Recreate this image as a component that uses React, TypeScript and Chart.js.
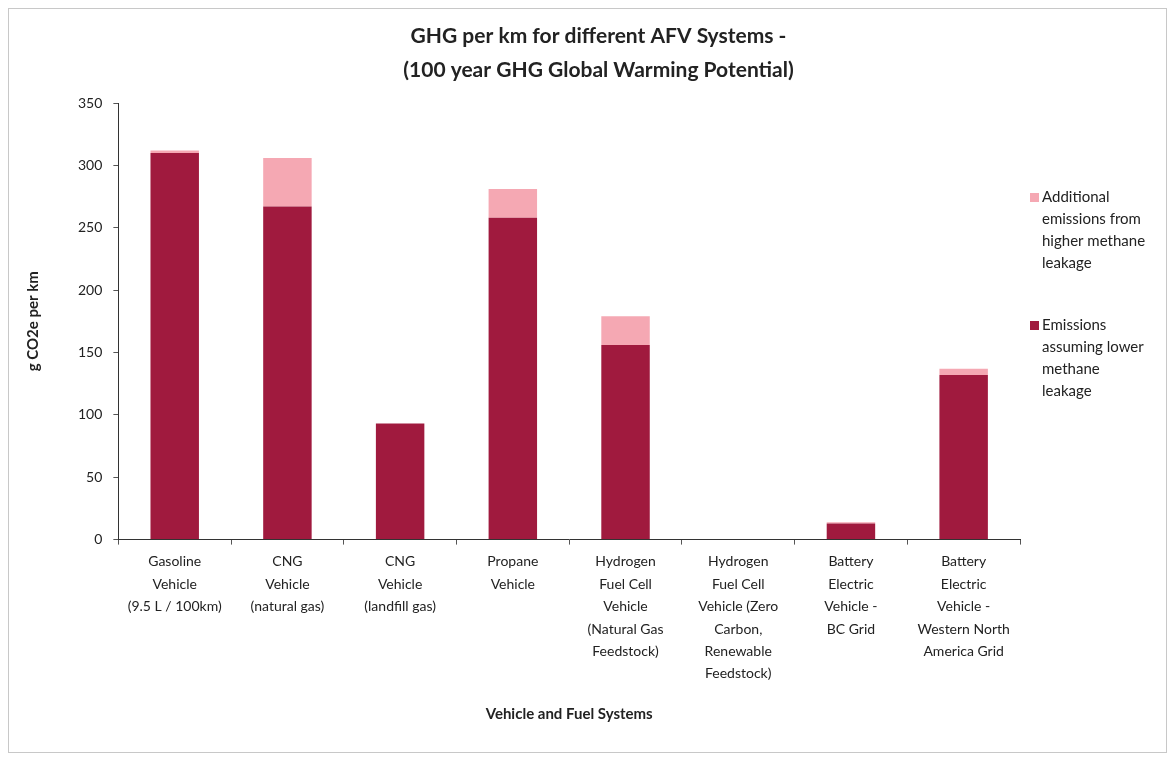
import { useEffect, useRef } from "react";
import { Chart, registerables } from "chart.js";
Chart.register(...registerables);

const categories: string[][] = [
  ["Gasoline", "Vehicle", "(9.5 L / 100km)"],
  ["CNG", "Vehicle", "(natural gas)"],
  ["CNG", "Vehicle", "(landfill gas)"],
  ["Propane", "Vehicle"],
  ["Hydrogen", "Fuel Cell", "Vehicle", "(Natural Gas", "Feedstock)"],
  ["Hydrogen", "Fuel Cell", "Vehicle (Zero", "Carbon,", "Renewable", "Feedstock)"],
  ["Battery", "Electric", "Vehicle -", "BC Grid"],
  ["Battery", "Electric", "Vehicle -", "Western North", "America Grid"],
];
const lowerLeakage = [310, 267, 93, 258, 156, 0, 13, 132];
const additionalLeakage = [2, 39, 0, 23, 23, 0, 1, 5];
const lowerLabel = ["Emissions", "assuming lower", "methane", "leakage"];
const additionalLabel = ["Additional", "emissions from", "higher methane", "leakage"];
const titleLines = ["GHG per km for different AFV Systems -", "(100 year GHG Global Warming Potential)"];

const DARK = "#a01a3e";
const LIGHT = "#f5a8b3";
const FONT = "Lato, 'Open Sans', sans-serif";

export default function App() {
  const ref = useRef<HTMLCanvasElement>(null);
  useEffect(() => {
    if (!ref.current) return;
    const decorPlugin = {
      id: "decor",
      afterDraw(chart: any) {
        const ctx = chart.ctx;
        const ca = chart.chartArea;
        ctx.save();
        ctx.font = `bold 21px ${FONT}`;
        ctx.fillStyle = "#222";
        ctx.textAlign = "center";
        ctx.textBaseline = "middle";
        titleLines.forEach((l, i) => ctx.fillText(l, chart.width / 2 + 11, 28 + i * 34));
        ctx.textAlign = "left";
        ctx.font = `15px ${FONT}`;
        const x = ca.right + 10;
        const groups = [
          { lines: additionalLabel, color: LIGHT, y: ca.top + 94 },
          { lines: lowerLabel, color: DARK, y: ca.top + 222 },
        ];
        for (const g of groups) {
          ctx.fillStyle = g.color;
          ctx.fillRect(x, g.y - 4, 9, 9);
          ctx.fillStyle = "#222";
          g.lines.forEach((l, i) => ctx.fillText(l, x + 12, g.y + i * 22));
        }
        ctx.strokeStyle = "#c8c8c8";
        ctx.lineWidth = 1;
        ctx.strokeRect(0.5, 0.5, chart.width - 1, chart.height - 1);
        ctx.restore();
      },
    };
    const chart = new Chart(ref.current, {
      type: "bar",
      data: {
        labels: categories,
        datasets: [
          {
            label: lowerLabel.join(" "),
            data: lowerLeakage,
            backgroundColor: DARK,
            barPercentage: 0.43,
            categoryPercentage: 1,
          },
          {
            label: additionalLabel.join(" "),
            data: additionalLeakage,
            backgroundColor: LIGHT,
            barPercentage: 0.43,
            categoryPercentage: 1,
          },
        ],
      },
      options: {
        responsive: false,
        animation: false,
        layout: { padding: { left: 12, right: 147, top: 95, bottom: 26 } },
        plugins: {
          legend: { display: false },
          tooltip: { enabled: false },
          title: { display: false },
        },
        scales: {
          x: {
            stacked: true,
            grid: {
              display: true,
              drawOnChartArea: false,
              drawTicks: true,
              tickLength: 5,
              color: "#555",
              offset: true,
            },
            border: { display: true, color: "#333", width: 1 },
            ticks: {
              color: "#222",
              font: { family: FONT, size: 14, lineHeight: 1.6 },
              maxRotation: 0,
              autoSkip: false,
              padding: 6,
            },
            title: {
              display: true,
              text: "Vehicle and Fuel Systems",
              color: "#222",
              font: { family: FONT, size: 15, weight: "bold" },
              padding: { top: 14 },
            },
          },
          y: {
            stacked: true,
            min: 0,
            max: 350,
            ticks: {
              stepSize: 50,
              color: "#222",
              font: { family: FONT, size: 14 },
              padding: 11,
            },
            grid: {
              display: true,
              drawOnChartArea: false,
              drawTicks: true,
              tickLength: 5,
              color: "#555",
            },
            border: { display: true, color: "#333", width: 1 },
            title: {
              display: true,
              text: "g CO2e per km",
              color: "#222",
              font: { family: FONT, size: 15, weight: "bold" },
              padding: { bottom: 25 },
            },
          },
        },
      },
      plugins: [decorPlugin],
    });
    return () => chart.destroy();
  }, []);
  return (
    <canvas
      ref={ref}
      width={1159}
      height={745}
      style={{ display: "block", width: 1159, height: 745, background: "#fff" }}
    />
  );
}
